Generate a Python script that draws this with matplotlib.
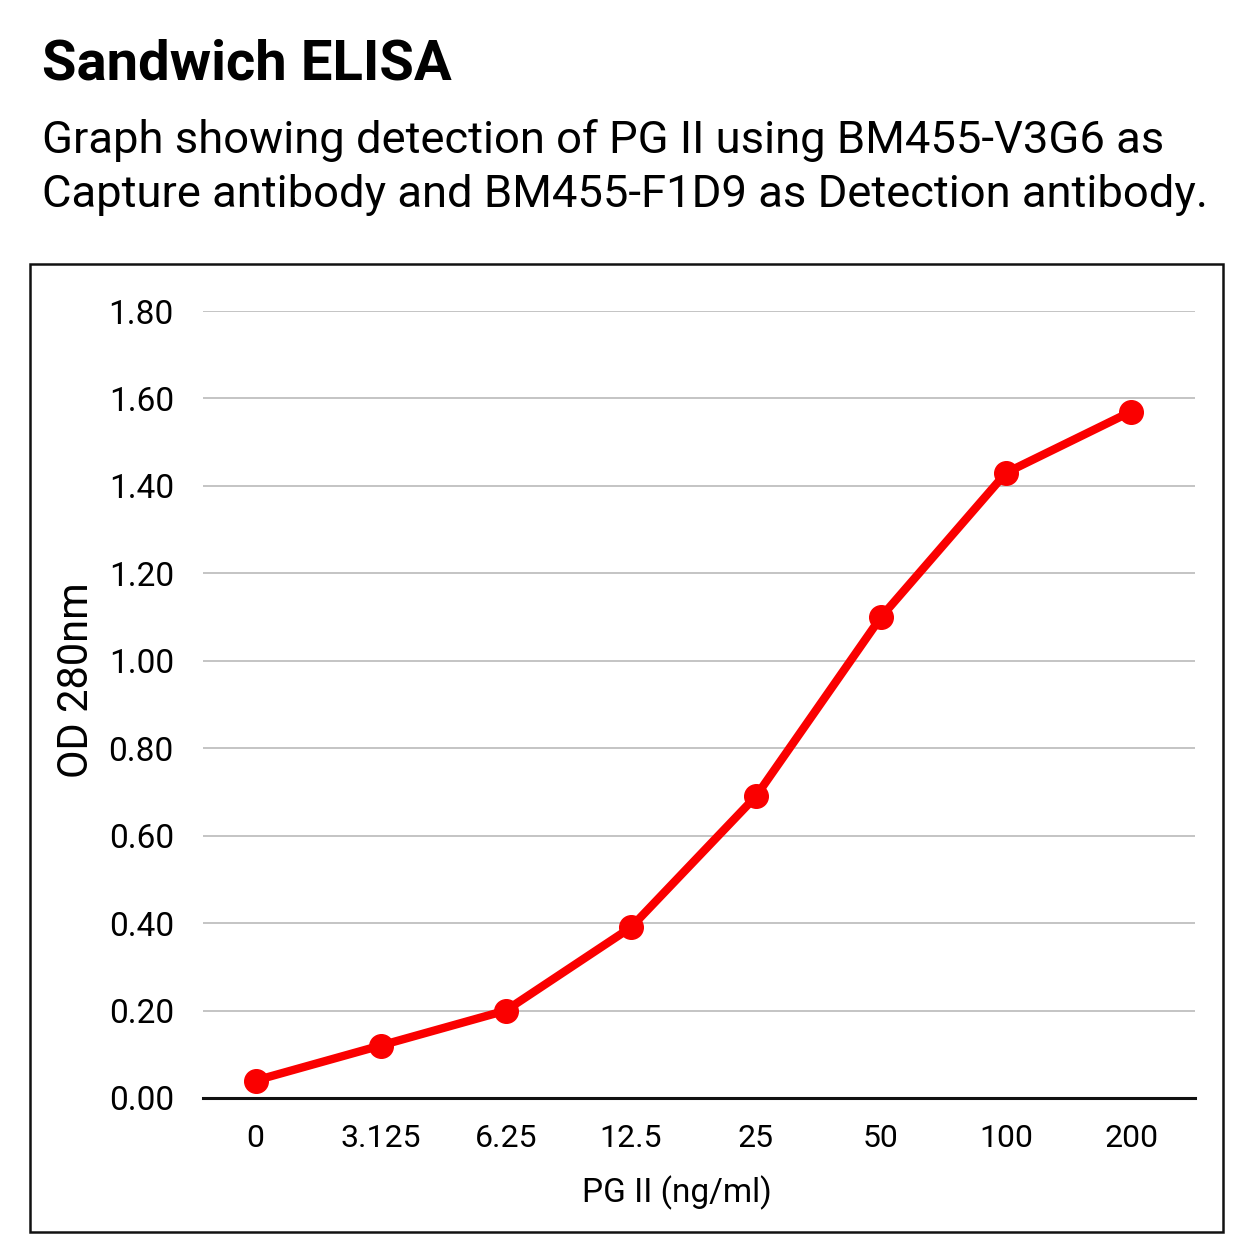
import matplotlib

matplotlib.use("Agg")
import matplotlib.pyplot as plt
from matplotlib.patches import Rectangle

plt.rcParams["font.family"] = ["Roboto", "DejaVu Sans"]

concentrations = ["0", "3.125", "6.25", "12.5", "25", "50", "100", "200"]
od_values = [0.04, 0.12, 0.20, 0.39, 0.69, 1.10, 1.43, 1.57]
y_ticks = [0.0, 0.2, 0.4, 0.6, 0.8, 1.0, 1.2, 1.4, 1.6, 1.8]

title = "Sandwich ELISA"
subtitle_lines = [
    "Graph showing detection of PG II using BM455-V3G6 as",
    "Capture antibody and BM455-F1D9 as Detection antibody.",
]

W = 1254
fig = plt.figure(figsize=(12.54, 12.54), dpi=100)
fig.patch.set_facecolor("white")

fig.text(42 / W, 1 - 80 / W, title, fontsize=40.5, fontweight="bold",
         ha="left", va="baseline")
for i, line in enumerate(subtitle_lines):
    fig.text(42 / W, 1 - (153 + 54 * i) / W, line, fontsize=32.7,
             ha="left", va="baseline")

# outer frame around the chart
fig.patches.append(Rectangle((30 / W, 1 - 1232 / W), 1193 / W, 968 / W,
                             transform=fig.transFigure, fill=False,
                             edgecolor="#111111", linewidth=1.8))

ax = fig.add_axes([203 / W, 1 - 1098 / W, 992 / W, 787 / W])
x = list(range(len(concentrations)))
ax.plot(x, od_values, color="#fa0000", linewidth=6, marker="o",
        markersize=17, zorder=3, clip_on=False)

ax.set_xlim(-0.42, 7.51)
ax.set_ylim(0, 1.8)
ax.set_xticks(x)
ax.set_xticklabels(concentrations)
ax.set_yticks(y_ticks)
ax.set_yticklabels([f"{v:.2f}" for v in y_ticks])
ax.tick_params(length=0)
ax.tick_params(axis="y", labelsize=24, pad=21)
ax.tick_params(axis="x", labelsize=23, pad=19)
ax.grid(axis="y", color="#c4c4c4", linewidth=1.4)
ax.set_axisbelow(True)
for side in ["top", "right", "left"]:
    ax.spines[side].set_visible(False)
ax.spines["bottom"].set_linewidth(2.2)
ax.spines["bottom"].set_color("#111111")

ax.set_xlabel("PG II (ng/ml)", fontsize=24)
ax.xaxis.set_label_coords((677 - 203) / 992, -(1202 - 1098) / 787)
ax.xaxis.label.set_va("baseline")
ax.set_ylabel("OD 280nm", fontsize=30)
ax.yaxis.set_label_coords(-(203 - 77) / 992, (1098 - 680) / 787)
ax.yaxis.label.set_va("center")

fig.savefig("out.png", dpi=100)
